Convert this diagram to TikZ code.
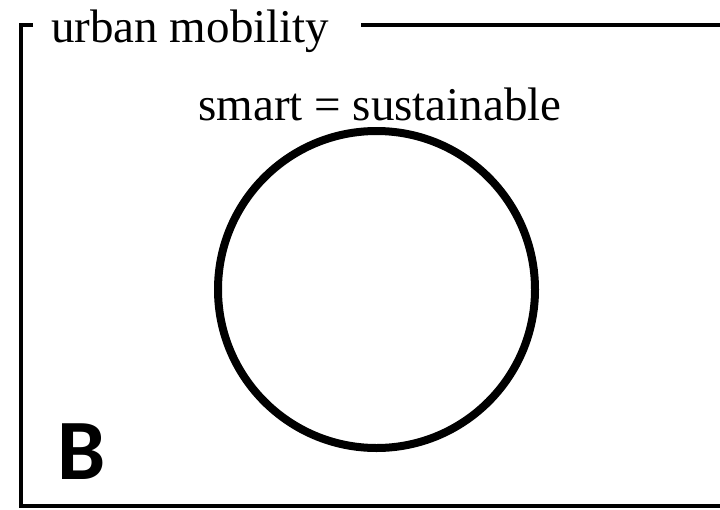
\documentclass[tikz,border=0pt]{standalone}
\usepackage{fontspec}
\setmainfont{Liberation Serif}
\newfontfamily\panelfont{Carlito}
\usetikzlibrary{positioning}

\begin{document}
\begin{tikzpicture}[
  x=1pt, y=-1pt,
  frameline/.style={line width=4pt, line cap=butt},
  label/.style={inner sep=0pt, font=\fontsize{47}{50}\selectfont},
  panel/.style={inner sep=0pt, font=\panelfont\bfseries\fontsize{86}{90}\selectfont},
  set/.style={draw, circle, line width=8pt, minimum size=317pt, inner sep=0pt}
]
\useasboundingbox (0,0) rectangle (720,509);
\clip (0,0) rectangle (720,509);
% frame with its title
\node[label, anchor=base west] (title) at (51,42) {urban mobility};
\coordinate (tick) at (33,25);
\coordinate (corner) at (21,25);
\coordinate (low) at (21,506);
\coordinate (lowright) at (730,506);
\coordinate (topstart) at (361,25);
\coordinate (topend) at (730,25);
\draw[frameline] (tick) -- (corner) -- (low) -- (lowright);
\draw[frameline] (topstart) -- (topend);
% the one set
\node[label, anchor=base] (equal) at (380,120) {smart = sustainable};
\node[set] (smart) at (376.5,289.5) {};
\node[panel, anchor=base west] (letter) at (57,479) {B};
\end{tikzpicture}
\end{document}
